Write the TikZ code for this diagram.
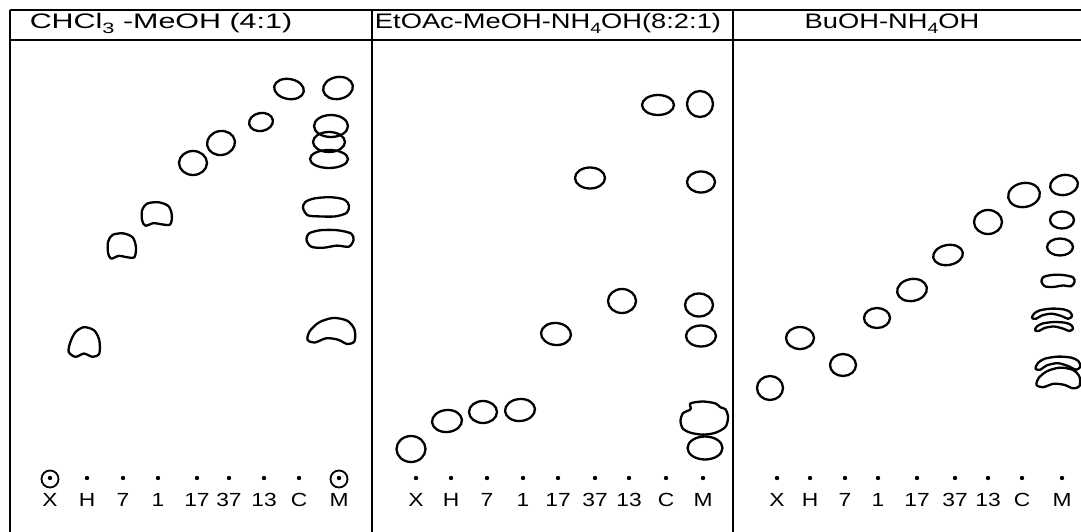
\documentclass[tikz,border=0pt]{standalone}
\usepackage{fontspec}
\setmainfont{Liberation Sans}[FakeStretch=1.2]
\newfontfamily\hdfont{Liberation Sans}[FakeStretch=1.3]
\newfontfamily\hdwide{Liberation Sans}[FakeStretch=1.45]
\usepackage{tikz}
\usetikzlibrary{positioning}

\newcommand{\subidx}[1]{\raisebox{-0.4ex}{\fontsize{15}{15}\selectfont #1}}
\newcommand{\spot}[5][0]{\draw[spot,rotate around={#1:(#2,#3)}] (#2,#3) ellipse [x radius=#4pt, y radius=#5pt];}

\tikzset{
  spot/.style={line width=2.3pt, line join=round},
  frame/.style={line width=1.8pt},
  title/.style={font=\hdfont\fontsize{21}{24}\selectfont, inner sep=0pt, anchor=base},
  lane/.style={font=\fontsize{19}{22}\selectfont, inner sep=0pt, anchor=base},
  lump/.pic={\draw[spot] plot[smooth cycle] coordinates {(-9,6) (-8,0) (-5,-6) (0,-9) (6,-7) (9,-1) (9,7) (5,9) (0,7) (-5,9)};},
  dshape/.pic={\draw[spot] plot[smooth cycle] coordinates {(-9,-3) (-6,-8) (1,-9) (7,-6) (9,1) (8,8) (3,8) (-2,7) (-7,9) (-9,5)};},
  pillow/.pic={\draw[spot] plot[smooth cycle] coordinates {(-10,0) (-9,-5) (-5,-8) (2,-9) (8,-7) (10,-2) (9,4) (4,7) (-3,7) (-8,6)};},
  bean/.pic={\draw[spot] plot[smooth cycle] coordinates {(-10,1) (-9,-5) (-4,-8) (3,-8) (9,-5) (10,1) (8,7) (3,6) (-3,8) (-8,7)};},
  arch/.pic={\draw[spot] plot[smooth cycle] coordinates {(-10,6) (-9,0) (-5,-6) (1,-9) (7,-7) (10,-1) (10,7) (7,9) (3,6) (-2,5) (-7,8)};},
  crescent/.pic={\draw[spot] plot[smooth cycle] coordinates {(-10,7) (-9,2) (-6,-2) (0,-4) (6,-3) (9,0) (10,5) (8,8) (5,5) (0,2) (-5,4) (-8,8)};},
  cluster/.pic={\draw[spot] plot[smooth cycle] coordinates {(-9,0) (-8,-4) (-5,-6) (-5,-9) (0,-10) (5,-9) (7,-7) (9,-6) (10,-2) (9,3) (5,6) (0,7) (-5,6) (-8,4)};}
}

\begin{document}
\begin{tikzpicture}[x=1pt, y=-1pt]
  \useasboundingbox (0,0) rectangle (1081,532);
  \draw[frame] (10,10) -- (1081,10);
  \draw[frame] (10,40) -- (1081,40);
  \foreach \xx in {10,372,733} \draw[frame] (\xx,10) -- (\xx,532);

  \node[title, font=\hdwide\fontsize{21}{24}\selectfont] (hdA) at (161,29) {CHCl\subidx{3} -MeOH (4:1)};
  \node[title] (hdB) at (548,29) {EtOAc-MeOH-NH\subidx{4}OH(8:2:1)};
  \node[title] (hdC) at (892,29) {BuOH-NH\subidx{4}OH};

  % lanes
  \foreach \lab/\xx [count=\i] in {X/50,H/87,7/123,1/158,17/197,37/229,13/264,C/299,M/339}{
    \fill (\xx,478) circle (2.2pt);
    \node[lane] (la\i) at (\xx,506) {\lab};
  }
  \draw[frame] (50,479) circle (8.5pt);
  \draw[frame] (339,479) circle (8.5pt);
  \foreach \lab/\xx [count=\i] in {X/416,H/451,7/487,1/523,17/558,37/595,13/629,C/666,M/703}{
    \fill (\xx,478) circle (2.2pt);
    \node[lane] (lb\i) at (\xx,506) {\lab};
  }
  \foreach \lab/\xx [count=\i] in {X/777,H/810,7/845,1/878,17/917,37/955,13/988,C/1022,M/1062}{
    \fill (\xx,478) circle (2.2pt);
    \node[lane] (lc\i) at (\xx,506) {\lab};
  }

  % CHCl3-MeOH
  \pic[xscale=1.7, yscale=1.65] at (84,342) {lump};
  \pic[xscale=1.55, yscale=1.4] at (122,246) {dshape};
  \pic[xscale=1.65, yscale=1.3] at (157,214) {dshape};
  \spot{193}{163}{14}{12}
  \spot[10]{221}{143}{14}{12}
  \spot[10]{261}{122}{12}{9}
  \spot[-10]{289}{89}{15}{10}
  \spot[10]{338}{88}{15}{11}
  \spot{331}{126}{17}{11}
  \spot{329}{142}{16}{10}
  \spot{329}{159}{19}{9}
  \pic[xscale=2.3, yscale=1.2] at (326,208) {pillow};
  \pic[xscale=2.35, yscale=1.1] at (330,239) {bean};
  \pic[xscale=2.35, yscale=1.45] at (331,331) {arch};

  % EtOAc-MeOH-NH4OH
  \spot{411}{449}{14.5}{13}
  \spot[5]{447}{421}{15}{11}
  \spot{483}{412}{14}{11}
  \spot[5]{520}{410}{15}{11}
  \spot[-5]{556}{334}{15}{11}
  \spot{590}{178}{15}{10.5}
  \spot{622}{301}{14}{12}
  \spot{658}{105}{16}{10}
  \spot{700}{104}{13}{13}
  \spot{701}{182}{14}{10.5}
  \spot{699}{305}{14}{11.5}
  \spot{701}{336}{15}{10.5}
  \pic[xscale=2.5, yscale=1.95] at (703,421) {cluster};
  \spot{705}{448}{17.5}{11.5}

  % BuOH-NH4OH
  \spot{770}{388}{13}{12}
  \spot{800}{338}{14}{11}
  \spot{843}{365}{13}{11}
  \spot{877}{318}{13}{10}
  \spot[10]{912}{290}{15}{11}
  \spot[10]{948}{255}{15}{10}
  \spot{988}{222}{14}{12}
  \spot[10]{1024}{195}{16}{12}
  \spot[10]{1064}{185}{14}{10}
  \spot{1062}{220}{12}{8.5}
  \spot{1060}{247}{13}{8.5}
  \pic[xscale=1.65, yscale=0.75] at (1058,281) {bean};
  \pic[xscale=2, yscale=0.85] at (1052,312) {crescent};
  \pic[xscale=1.9, yscale=0.75] at (1054,325) {crescent};
  \pic[xscale=2.25, yscale=1.1] at (1058,361) {crescent};
  \pic[xscale=2.15, yscale=1.15] at (1058,378) {arch};
\end{tikzpicture}
\end{document}
